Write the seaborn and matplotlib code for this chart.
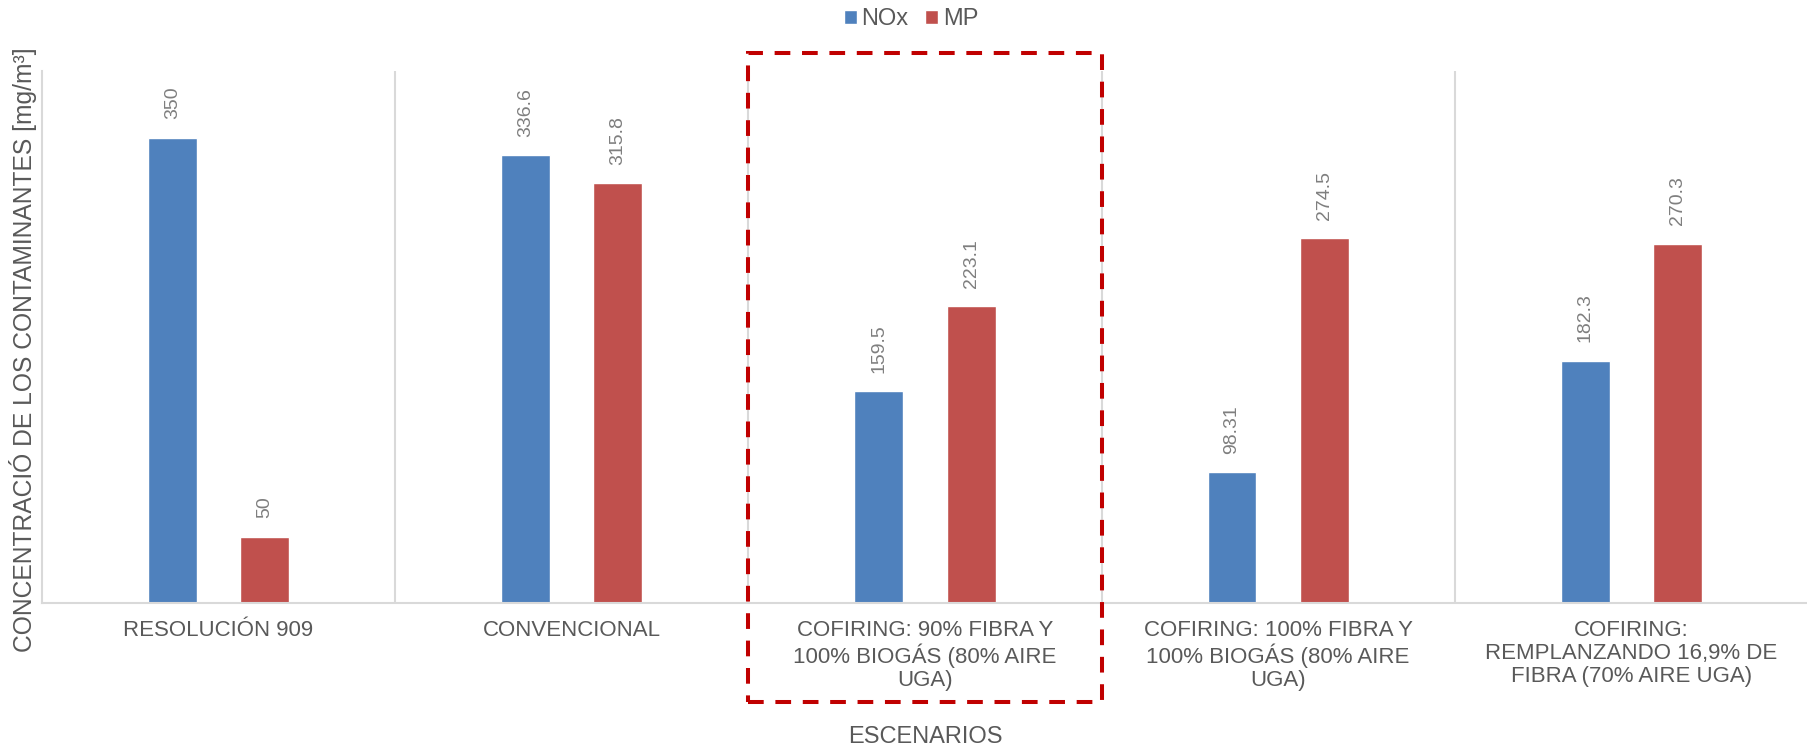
import numpy as np
import pandas as pd
import matplotlib
matplotlib.use("Agg")
import matplotlib.pyplot as plt
import matplotlib.patches as mpatches
import seaborn as sns

# data
escenarios = [
    "RESOLUCIÓN 909",
    "CONVENCIONAL",
    "COFIRING: 90% FIBRA Y\n100% BIOGÁS (80% AIRE\nUGA)",
    "COFIRING: 100% FIBRA Y\n100% BIOGÁS (80% AIRE\nUGA)",
    "COFIRING:\nREMPLANZANDO 16,9% DE\nFIBRA (70% AIRE UGA)",
]
nox = [350, 336.6, 159.5, 98.31, 182.3]
mp = [50, 315.8, 223.1, 274.5, 270.3]
series = ["NOx", "MP"]
colors = {"NOx": "#4F81BD", "MP": "#C0504D"}
highlight = 2  # scenario boxed with red dashes

TXT = "#595959"
GRID = "#D9D9D9"


def build_frame():
    rows = []
    for name, vals in zip(series, [nox, mp]):
        for esc, v in zip(escenarios, vals):
            rows.append({"Escenario": esc, "Serie": name, "Valor": v})
    return pd.DataFrame(rows)


def main():
    sns.set_style("white")
    plt.rcParams["font.family"] = ["Liberation Sans", "DejaVu Sans"]

    df = build_frame()
    fig = plt.figure(figsize=(18.08, 7.5), dpi=100)
    ax = fig.add_axes([0.0232, 0.196, 0.9768, 0.7093])

    sns.barplot(data=df, x="Escenario", y="Valor", hue="Serie", palette=colors,
                order=escenarios, hue_order=series, width=0.523, gap=0.47,
                saturation=1, errorbar=None, ax=ax)

    ax.set_xlim(-0.5, len(escenarios) - 0.5)
    ax.set_ylim(0, 400)

    for cont in ax.containers:
        ax.bar_label(cont, fmt="%g", rotation=90, padding=13,
                     fontsize=14, color="#7F7F7F")

    # category separators
    ax.set_xticks(np.arange(len(escenarios) - 1) + 0.5, minor=True)
    ax.grid(which="minor", axis="x", color=GRID, lw=1.5)
    ax.grid(which="major", visible=False)
    ax.set_yticks([])
    ax.tick_params(axis="x", which="both", length=0, pad=12,
                   labelsize=16, labelcolor=TXT)
    for lbl in ax.get_xticklabels():
        lbl.set_linespacing(1.15)

    sns.despine(ax=ax, top=True, right=True)
    for side in ["left", "bottom"]:
        ax.spines[side].set_color(GRID)
        ax.spines[side].set_linewidth(1.5)

    ax.set_ylabel("CONCENTRACIÓ DE LOS CONTAMINANTES [mg/m³]",
                  fontsize=17.7, color=TXT)
    ax.yaxis.set_label_coords(-0.003, 0.477)
    ax.set_xlabel("ESCENARIOS", fontsize=17, color=TXT)
    ax.xaxis.set_label_coords(0.5, -0.232)

    sns.move_legend(ax, "center", bbox_to_anchor=(0.492, 1.097), ncol=2,
                    frameon=False, title=None, fontsize=17,
                    handlelength=0.55, handleheight=0.55,
                    handletextpad=0.2, columnspacing=0.7)
    for t in ax.get_legend().get_texts():
        t.set_color(TXT)

    box = mpatches.Rectangle((highlight - 0.5, -0.186), 1.0, 1.2205,
                             transform=ax.get_xaxis_transform(),
                             fill=False, edgecolor="#C00000", lw=2.9,
                             linestyle=(0, (3.9, 2.9)), clip_on=False,
                             zorder=5)
    ax.add_patch(box)

    fig.savefig("out.png", dpi=100)


if __name__ == "__main__":
    main()
